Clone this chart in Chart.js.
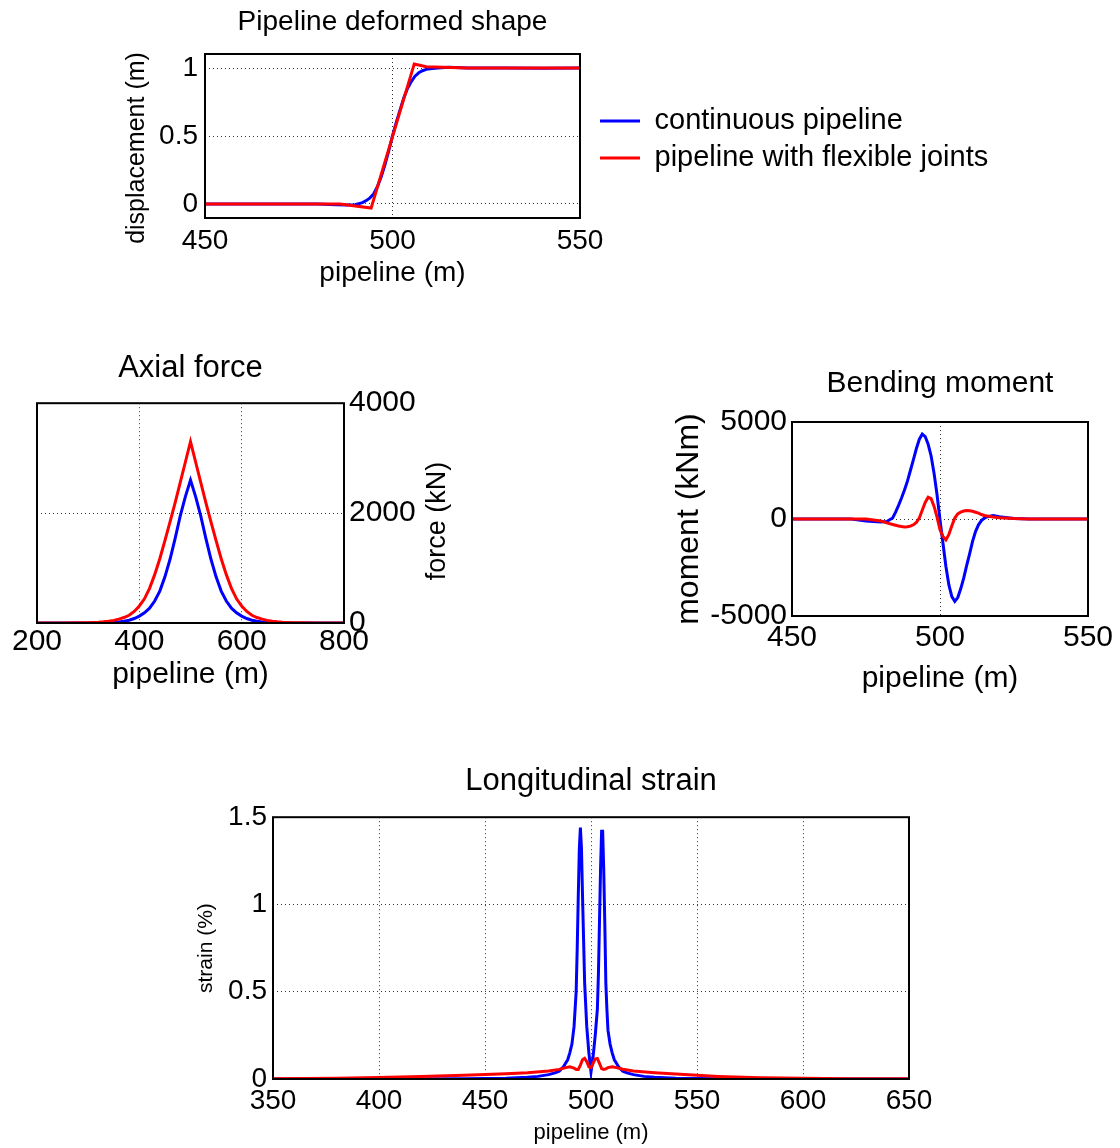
<!DOCTYPE html>
<html>
<head>
<meta charset="utf-8">
<title>Pipeline response</title>
<script src="https://cdn.jsdelivr.net/npm/chart.js@4.4.1/dist/chart.umd.min.js"></script>
<style>
  html, body { margin: 0; padding: 0; background: #fff; }
  body { width: 1120px; height: 1148px; position: relative; overflow: hidden; }
  canvas { position: absolute; }
</style>
</head>
<body>
<canvas id="shapeChart" width="989" height="298" style="left:0px;top:0px"></canvas>
<canvas id="forceChart" width="470" height="360" style="left:0px;top:340px"></canvas>
<canvas id="momentChart" width="460" height="360" style="left:660px;top:345px"></canvas>
<canvas id="strainChart" width="800" height="403" style="left:150px;top:745px"></canvas>
<script>
// ----- data -----
const seriesNames = ['continuous pipeline', 'pipeline with flexible joints'];

// deformed shape (m)
const shapeX = [450, 470, 480, 485, 488, 490, 492, 493, 494, 495, 496, 497, 498, 499, 500,
  501, 502, 503, 504, 505, 506, 507, 508, 509, 510, 512, 515, 520, 530, 540, 550];
const shapeContinuous = [0, 0, 0, -0.005, -0.008, -0.006, 0.01, 0.025, 0.045, 0.075, 0.13, 0.2, 0.29, 0.39, 0.5,
  0.6, 0.69, 0.78, 0.85, 0.9, 0.94, 0.965, 0.98, 0.99, 0.995, 1.0, 1.005, 1.0, 1.0, 0.998, 1.0];
const shapeJointX = [450, 486, 494.3, 505.8, 509, 520, 550];
const shapeJoint = [0, 0, -0.03, 1.03, 1.01, 1.0, 1.0];
const shapeXTicks = [450, 500, 550];
const shapeYTicks = [0, 0.5, 1];

// axial force (kN)
const forceX = [200, 250, 280, 300, 310, 320, 330, 340, 350, 360, 370, 380, 390, 400, 410, 420, 430, 440, 450,
  460, 470, 480, 490, 500, 510, 520, 530, 540, 550, 560, 570, 580, 590, 600, 610, 620, 630, 640, 650,
  660, 670, 680, 690, 700, 720, 750, 800];
const forceContinuous = [0, 0, 0, 0, 0, 0, 2, 5, 10, 18, 32, 50, 82, 125, 185, 270, 400, 580, 840,
  1160, 1540, 1950, 2300, 2600, 2300, 1950, 1540, 1160, 840, 580, 400, 270, 185, 125, 82, 50, 32, 18, 10,
  5, 2, 0, 0, 0, 0, 0, 0];
const forceJoint = [0, 1, 3, 6, 9, 14, 22, 33, 48, 70, 100, 140, 210, 310, 440, 630, 880, 1170, 1500,
  1840, 2190, 2560, 2930, 3300, 2930, 2560, 2190, 1840, 1500, 1170, 880, 630, 440, 310, 210, 140, 100, 70, 48,
  33, 22, 14, 9, 6, 3, 1, 0];
const forceXTicks = [200, 400, 600, 800];
const forceYTicks = [0, 2000, 4000];

// bending moment (kNm)
const momentX = [450, 460, 470, 475, 480, 482, 484, 485, 486, 487, 488, 489, 490, 491, 492, 493, 494,
  495, 496, 497, 498, 499, 500, 501, 502, 503, 504, 505, 506, 507, 508, 509, 510, 511, 512, 513, 514,
  515, 516, 518, 520, 525, 530, 540, 550];
const momentContinuous = [0, 0, 0, -100, -150, -130, 50, 350, 700, 1080, 1500, 1950, 2500, 3050, 3620, 4100, 4380,
  4250, 3850, 3250, 2350, 1250, -50, -1250, -2450, -3400, -4000, -4250, -4050, -3600, -3050, -2400, -1800, -1150, -650, -300, -80,
  50, 120, 180, 120, 20, 0, 0, 0];
const momentJoint = [0, 0, 0, 0, -100, -200, -280, -320, -360, -390, -410, -400, -370, -300, -180, 50, 450,
  850, 1120, 1050, 650, 100, -550, -900, -1080, -800, -350, 50, 260, 360, 410, 440, 430, 400, 350, 300, 230,
  180, 150, 100, 70, 20, 0, 0, 0];
const momentXTicks = [450, 500, 550];
const momentYTicks = [-5000, 0, 5000];

// longitudinal strain (%)
const strainX = [350, 400, 440, 460, 470, 475, 480, 483, 485, 487, 488, 489, 490, 491, 492, 493,
  493.5, 494, 494.5, 495, 495.5, 496, 496.5, 497, 498, 499, 500, 501, 502, 503,
  503.5, 504, 504.5, 505, 505.5, 506, 506.5, 507, 507.5, 508, 509, 510, 511, 512, 513,
  515, 517, 520, 525, 530, 540, 560, 600, 650];
const strainContinuous = [0, 0, 0.002, 0.005, 0.01, 0.015, 0.025, 0.035, 0.045, 0.07, 0.09, 0.11, 0.15, 0.2, 0.3, 0.5,
  0.75, 1.05, 1.32, 1.44, 1.32, 1.05, 0.8, 0.55, 0.3, 0.15, 0.04, 0.13, 0.25, 0.4,
  0.6, 0.9, 1.2, 1.42, 1.42, 1.2, 0.9, 0.55, 0.4, 0.28, 0.2, 0.15, 0.11, 0.09, 0.07,
  0.045, 0.035, 0.025, 0.015, 0.01, 0.005, 0.002, 0, 0];
const strainJointX = [350, 380, 400, 420, 440, 460, 470, 480, 485, 488, 490, 492, 493, 494, 495, 496, 497, 498, 499, 500,
  501, 502, 503, 504, 505, 506, 507, 508, 510, 512, 515, 520, 530, 540, 560, 580, 600, 620, 650];
const strainJoint = [0.002, 0.004, 0.008, 0.015, 0.022, 0.03, 0.036, 0.046, 0.055, 0.065, 0.07, 0.062, 0.055, 0.055, 0.08, 0.11, 0.118, 0.1, 0.07, 0.065,
  0.09, 0.115, 0.118, 0.09, 0.06, 0.055, 0.058, 0.065, 0.07, 0.065, 0.056, 0.046, 0.036, 0.028, 0.015, 0.007, 0.004, 0.002, 0.001];
const strainXTicks = [350, 400, 450, 500, 550, 600, 650];
const strainYTicks = [0, 0.5, 1, 1.5];

// ----- helpers -----
const FONT = 'Arial, "Liberation Sans", Helvetica, sans-serif';
const BLUE = '#0000ff';
const RED = '#ff0000';

Chart.defaults.font.family = FONT;
Chart.defaults.color = '#000';

// closed black box around the plot area (matlab "box on")
const boxPlugin = {
  id: 'box',
  afterDraw(chart) {
    const { ctx, chartArea: a } = chart;
    ctx.save();
    ctx.strokeStyle = '#000';
    ctx.lineWidth = 2;
    ctx.strokeRect(a.left, a.top, a.right - a.left, a.bottom - a.top);
    ctx.restore();
  }
};

// rotated y label reading bottom-to-top, placed like matlab does it
// (a bit below the axis centre, and also on the right-hand axis)
const sideTitle = {
  id: 'sideTitle',
  afterDraw(chart, args, opts) {
    if (!opts.text) return;
    const { ctx, chartArea: a } = chart;
    ctx.save();
    ctx.translate(opts.x, (a.top + a.bottom) / 2 + (opts.dy || 0));
    ctx.rotate(-Math.PI / 2);
    ctx.font = opts.size + 'px ' + FONT;
    ctx.fillStyle = '#000';
    ctx.textAlign = 'center';
    ctx.textBaseline = 'middle';
    ctx.fillText(opts.text, 0, 0);
    ctx.restore();
  }
};

function lineSet(label, xs, ys, color, order) {
  return {
    label,
    data: xs.map((x, i) => ({ x, y: ys[i] })),
    borderColor: color,
    backgroundColor: color,
    borderWidth: 3,
    pointRadius: 0,
    tension: 0,
    order
  };
}

function axis(o) {
  return {
    type: 'linear',
    position: o.position,
    min: o.min,
    max: o.max,
    afterBuildTicks: (s) => { s.ticks = o.ticks.map(v => ({ value: v })); },
    afterFit: (s) => { if (s.isHorizontal()) s.height = o.size; else s.width = o.size; },
    grid: { color: '#333', lineWidth: 1, drawTicks: false },
    border: { display: false, dash: [1, 3] },
    ticks: {
      color: '#000',
      font: { size: o.fontSize },
      padding: o.pad,
      maxRotation: 0,
      autoSkip: false,
      callback: (v) => String(v)
    },
    title: o.title
      ? { display: true, text: o.title, color: '#000', font: { size: o.titleSize }, padding: o.titlePad }
      : { display: false }
  };
}

// title centred over the plot area, not the whole canvas
function plotTitle(text, size, top, bottom) {
  return {
    display: true, text, fullSize: false, color: '#000',
    font: { size, weight: 'normal' }, padding: { top, bottom }
  };
}

const base = { responsive: false, animation: false, events: [] };

// ----- pipeline deformed shape -----
new Chart(document.getElementById('shapeChart'), {
  type: 'line',
  data: {
    datasets: [
      lineSet(seriesNames[0], shapeX, shapeContinuous, BLUE, 1),
      lineSet(seriesNames[1], shapeJointX, shapeJoint, RED, 0)
    ]
  },
  options: {
    ...base,
    layout: { padding: { left: 0, right: 0, top: 0, bottom: 0 } },
    scales: {
      x: axis({ position: 'bottom', min: 450, max: 550, ticks: shapeXTicks, size: 80, fontSize: 28, pad: 6,
        title: 'pipeline (m)', titleSize: 28, titlePad: { top: 0, bottom: 8 } }),
      y: axis({ position: 'left', min: -0.103, max: 1.103, ticks: shapeYTicks, size: 205, fontSize: 28, pad: 7 }),
      gap: {
        type: 'linear', position: 'right', display: true,
        grid: { display: false }, ticks: { display: false }, border: { display: false },
        afterFit: (s) => { s.width = 12; }
      }
    },
    plugins: {
      title: plotTitle('Pipeline deformed shape', 28, 5, 15.4),
      legend: {
        position: 'right',
        fullSize: false,
        maxWidth: 397,
        title: { display: true, text: '', font: { size: 7, lineHeight: 1 }, padding: 0 },
        labels: {
          usePointStyle: true,
          pointStyle: 'line',
          pointStyleWidth: 40,
          padding: 8,
          color: '#000',
          font: { size: 29 },
          sort: (a, b) => a.datasetIndex - b.datasetIndex
        }
      },
      tooltip: { enabled: false },
      sideTitle: { text: 'displacement (m)', x: 137, dy: 12, size: 25 }
    }
  },
  plugins: [boxPlugin, sideTitle]
});

// ----- axial force -----
new Chart(document.getElementById('forceChart'), {
  type: 'line',
  data: {
    datasets: [
      lineSet(seriesNames[0], forceX, forceContinuous, BLUE, 1),
      lineSet(seriesNames[1], forceX, forceJoint, RED, 0)
    ]
  },
  options: {
    ...base,
    layout: { padding: { left: 37, right: 0, top: 0, bottom: 0 } },
    scales: {
      x: axis({ position: 'bottom', min: 200, max: 800, ticks: forceXTicks, size: 77, fontSize: 30, pad: 1,
        title: 'pipeline (m)', titleSize: 30, titlePad: { top: 0, bottom: 7 } }),
      y: axis({ position: 'right', min: 0, max: 4000, ticks: forceYTicks, size: 126, fontSize: 30, pad: 5 })
    },
    plugins: {
      title: plotTitle('Axial force', 31, 10, 16),
      legend: { display: false },
      tooltip: { enabled: false },
      sideTitle: { text: 'force (kN)', x: 438, dy: 8, size: 27 }
    }
  },
  plugins: [boxPlugin, sideTitle]
});

// ----- bending moment -----
new Chart(document.getElementById('momentChart'), {
  type: 'line',
  data: {
    datasets: [
      lineSet(seriesNames[0], momentX, momentContinuous, BLUE, 1),
      lineSet(seriesNames[1], momentX, momentJoint, RED, 0)
    ]
  },
  options: {
    ...base,
    layout: { padding: { left: 0, right: 32, top: 0, bottom: 0 } },
    scales: {
      x: axis({ position: 'bottom', min: 450, max: 550, ticks: momentXTicks, size: 89, fontSize: 30, pad: 4,
        title: 'pipeline (m)', titleSize: 30, titlePad: { top: 0, bottom: 8 } }),
      y: axis({ position: 'left', min: -5000, max: 5000, ticks: momentYTicks, size: 132, fontSize: 30, pad: 5,
        title: 'moment (kNm)', titleSize: 32, titlePad: { top: 10, bottom: 0 } })
    },
    plugins: {
      title: plotTitle('Bending moment', 30, 21, 20),
      legend: { display: false },
      tooltip: { enabled: false }
    }
  },
  plugins: [boxPlugin]
});

// ----- longitudinal strain -----
new Chart(document.getElementById('strainChart'), {
  type: 'line',
  data: {
    datasets: [
      lineSet(seriesNames[0], strainX, strainContinuous, BLUE, 1),
      lineSet(seriesNames[1], strainJointX, strainJoint, RED, 0)
    ]
  },
  options: {
    ...base,
    layout: { padding: { left: 0, right: 41, top: 0, bottom: 0 } },
    scales: {
      x: axis({ position: 'bottom', min: 350, max: 650, ticks: strainXTicks, size: 69, fontSize: 28, pad: 5,
        title: 'pipeline (m)', titleSize: 22, titlePad: { top: 0, bottom: 2 } }),
      y: axis({ position: 'left', min: 0, max: 1.5, ticks: strainYTicks, size: 123, fontSize: 28, pad: 6,
        title: 'strain (%)', titleSize: 21, titlePad: { top: 44, bottom: 0 } })
    },
    plugins: {
      title: plotTitle('Longitudinal strain', 31, 18, 17),
      legend: { display: false },
      tooltip: { enabled: false }
    }
  },
  plugins: [boxPlugin]
});
</script>
</body>
</html>
